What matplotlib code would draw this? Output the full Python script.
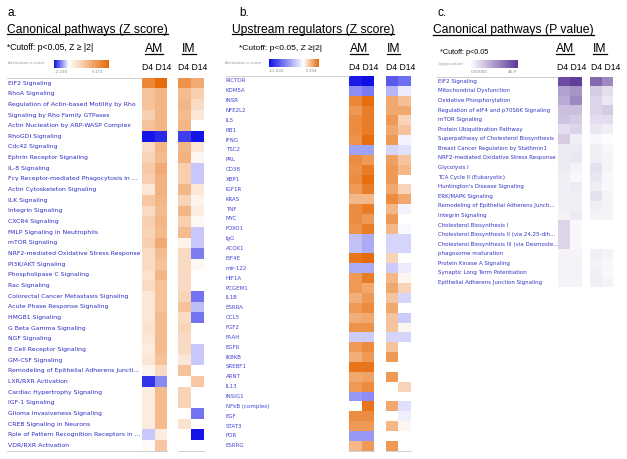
import numpy as np
import matplotlib
matplotlib.use('Agg')
import matplotlib.pyplot as plt
from matplotlib.colors import LinearSegmentedColormap, Normalize
from matplotlib.cm import ScalarMappable
from matplotlib.lines import Line2D
import matplotlib.transforms as mtransforms

# ---------------- DATA ----------------
a_pathways = [
    "EIF2 Signaling", "RhoA Signaling", "Regulation of Actin-based Motility by Rho",
    "Signaling by Rho Family GTPases", "Actin Nucleation by ARP-WASP Complex",
    "RhoGDI Signaling", "Cdc42 Signaling", "Ephrin Receptor Signaling", "IL-8 Signaling",
    "Fcγ Receptor-mediated Phagocytosis in ...", "Actin Cytoskeleton Signaling",
    "ILK Signaling", "Integrin Signaling", "CXCR4 Signaling", "fMLP Signaling in Neutrophils",
    "mTOR Signaling", "NRF2-mediated Oxidative Stress Response", "PI3K/AKT Signaling",
    "Phospholipase C Signaling", "Rac Signaling", "Colorectal Cancer Metastasis Signaling",
    "Acute Phase Response Signaling", "HMGB1 Signaling", "G Beta Gamma Signaling",
    "NGF Signaling", "B Cell Receptor Signaling", "GM-CSF Signaling",
    "Remodeling of Epithelial Adherens Juncti...", "LXR/RXR Activation",
    "Cardiac Hypertrophy Signaling", "IGF-1 Signaling", "Glioma Invasiveness Signaling",
    "CREB Signaling in Neurons", "Role of Pattern Recognition Receptors in ...",
    "VDR/RXR Activation"]
a_am_d4 = [5.0, 2.5, 2.5, 2.0, 2.5, -2.2, 1.5, 1.8, 2.2, 2.0, 1.0, 2.3, 1.5, 2.0, 1.8, 2.0, 1.5,
           1.5, 1.2, 1.5, 1.0, 1.0, 1.0, 1.2, 1.0, 0.8, 1.0, 0.5, -1.9, 0.8, 0.8, 0.8, 0.8, -0.5, 0.2]
a_am_d14 = [6.1, 3.0, 3.0, 3.0, 3.0, -2.0, 3.0, 2.8, 3.5, 3.2, 3.2, 3.0, 2.8, 3.0, 2.8, 3.5, 2.8,
            2.5, 3.0, 2.5, 2.5, 2.5, 2.8, 2.8, 2.8, 2.8, 2.5, 1.5, -1.1, 2.8, 2.8, 2.8, 2.8, 0.8, 2.3]
a_im_d4 = [4.5, 2.8, 3.0, 2.8, 3.0, -1.8, 3.0, 3.2, 2.0, 2.0, 3.0, 1.8, 3.0, 2.0, 2.8, 0.5, 1.5,
           1.5, 1.5, 1.5, 1.8, 2.5, 1.5, 1.8, 1.5, 1.5, 1.0, 2.5, 0.0, 1.8, 1.8, 0.0, 1.2, 0.0, 0.0]
a_im_d14 = [3.5, 2.0, 1.5, 1.0, 0.0, -2.2, 1.0, 0.4, -0.5, -0.5, 1.0, 0.5, 0.8, 0.3, -0.5, -0.5, -1.2,
            0.3, 0.0, 0.0, -1.3, -0.6, -1.3, 0.0, 0.0, -0.5, -0.5, 0.0, 2.3, 0.0, 0.0, -1.3, 0.0, -2.2, 0.0]
a_vmin, a_vmax = -2.236, 6.172

b_regulators = [
    "RICTOR", "KDM5A", "INSR", "NFE2L2", "IL5", "RB1", "IFNG", "TSC2", "PRL", "CD38", "XBP1",
    "IGF1R", "KRAS", "TNF", "MYC", "FOXO1", "IgG", "ACOX1", "EIF4E", "mir-122", "HIF1A",
    "PCGEM1", "IL1B", "ESRRA", "CCL5", "FGF2", "FAAH", "EGFR", "IKBKB", "SREBF1", "ARNT",
    "IL13", "INSIG1", "NFkB (complex)", "EGF", "STAT3", "POR", "ESRRG"]
b_am_d4 = [-11.0, -5.5, 4.2, 3.6, 4.0, 4.0, 3.8, -4.5, 4.0, 3.8, 4.0, 3.5, 2.5, 4.0, 4.0, 3.8,
           -3.0, -3.0, 4.8, -4.0, 3.5, 3.5, 2.8, 3.5, 2.8, 3.8, -2.5, 3.5, 2.8, 4.8, 3.0, 3.5,
           -5.0, 0.0, 4.0, 3.5, -5.0, 2.5]
b_am_d14 = [-11.5, -6.5, 5.0, 4.5, 4.5, 4.5, 5.0, -4.5, 3.5, 4.5, 5.0, 4.5, 2.5, 4.5, 3.5, 4.5,
            -4.0, -4.0, 5.1, -4.0, 4.5, 3.0, 3.5, 4.0, 3.0, 3.8, -2.5, 4.0, 3.5, 4.8, 3.2, 4.0,
            -5.5, 4.8, 4.0, 3.5, -5.0, 3.5]
b_im_d4 = [-8.0, -3.5, 3.0, 3.0, 3.5, 3.0, 3.5, -2.0, 3.3, 3.5, 3.5, 3.0, 4.0, 2.5, 3.5, 2.5,
           -2.0, -2.0, 1.5, -2.5, 2.5, 3.0, 2.0, 3.0, 2.0, 2.0, -2.0, 2.0, 3.5, 0.0, 3.5, 0.0,
           0.0, 3.0, 0.0, 2.5, 0.0, 3.5]
b_im_d14 = [-7.0, -1.0, 2.2, 3.0, 1.5, 2.0, -0.6, -1.5, 2.0, 2.5, 0.0, 1.5, 3.0, -0.6, 0.0, -0.3,
            -2.0, -2.0, 0.0, -1.0, 0.3, 1.5, -2.0, 0.0, -2.5, 0.3, -2.0, 0.0, 0.0, 0.0, 0.0, 1.5,
            0.0, -1.5, -0.8, 0.3, 0.0, 0.0]
b_vmin, b_vmax = -11.532, 5.194

c_pathways = [
    "EIF2 Signaling", "Mitochondrial Dysfunction", "Oxidative Phosphorylation",
    "Regulation of eIF4 and p70S6K Signaling", "mTOR Signaling", "Protein Ubiquitination Pathway",
    "Superpathway of Cholesterol Biosynthesis", "Breast Cancer Regulation by Stathmin1",
    "NRF2-mediated Oxidative Stress Response", "Glycolysis I", "TCA Cycle II (Eukaryotic)",
    "Huntington's Disease Signaling", "ERK/MAPK Signaling",
    "Remodeling of Epithelial Adherens Juncti...", "Integrin Signaling",
    "Cholesterol Biosynthesis I", "Cholesterol Biosynthesis II (via 24,25-dih...",
    "Cholesterol Biosynthesis III (via Desmoste...", "phagosome maturation",
    "Protein Kinase A Signaling", "Synaptic Long Term Potentiation",
    "Epithelial Adherens Junction Signaling"]
c_am_d4 = [42, 22, 20, 15, 14, 8, 12, 5, 5, 5, 4, 4, 4, 4, 3, 10, 10, 10, 3, 3, 3, 3]
c_am_d14 = [45, 25, 28, 15, 12, 10, 4, 5, 6, 3, 2, 5, 4, 4, 5, 2, 2, 2, 3, 3, 3, 3]
c_im_d4 = [35, 12, 10, 10, 8, 6, 2, 4, 4, 7, 6, 4, 7, 4, 3, 0, 0, 0, 4, 3, 4, 4]
c_im_d14 = [28, 8, 6, 12, 8, 4, 1, 2, 3, 3, 2, 2, 3, 3, 3, 0, 0, 0, 3, 2, 2, 3]
c_vmin, c_vmax = 0.0, 46.9
c_ticklabels = ("0.00000", "46.9")

groups = ["AM", "IM"]
days = "D4 D14"

# ---------------- FIGURE ----------------
W, H = 627, 459
fig = plt.figure(figsize=(W / 100, H / 100), dpi=100)
SANS = ['Liberation Sans', 'DejaVu Sans']
LAB = ['DejaVu Sans']


def rect(x0, y0, x1, y1):
    return [x0 / W, 1 - y1 / H, (x1 - x0) / W, (y1 - y0) / H]


def ftext(x, y, s, **kw):
    return fig.text(x / W, 1 - y / H, s, **kw)


def fline(x0, x1, y, color='#c8c8c8', lw=0.6):
    fig.add_artist(Line2D([x0 / W, x1 / W], [1 - y / H, 1 - y / H],
                          transform=fig.transFigure, color=color, lw=lw))


def div_cmap(vmin, vmax, neg, pos):
    z = -vmin / (vmax - vmin)
    return LinearSegmentedColormap.from_list('d', [(0, neg), (z, 'white'), (1, pos)])


BLUE = '#1010e6'
ORANGE = '#e66a08'
cmap_a = div_cmap(a_vmin, a_vmax, BLUE, ORANGE)
cmap_b = div_cmap(b_vmin, b_vmax, BLUE, ORANGE)
cmap_c = LinearSegmentedColormap.from_list('p', ['white', '#5a3796'])
norm_a = Normalize(a_vmin, a_vmax)
norm_b = Normalize(b_vmin, b_vmax)
norm_c = Normalize(c_vmin, c_vmax)


def heat(px, d4, d14, cmap, norm):
    ax = fig.add_axes(rect(*px))
    arr = np.column_stack([d4, d14])
    ax.pcolormesh(arr, cmap=cmap, norm=norm)
    ax.set_xlim(0, 2)
    ax.set_ylim(len(d4), 0)
    ax.axis('off')
    return ax


def row_labels(ax, labels, xpx, fs, color):
    tr = mtransforms.blended_transform_factory(fig.transFigure, ax.transData)
    for i, lab in enumerate(labels):
        ax.text(xpx / W, i + 0.5, lab, transform=tr, ha='left', va='center',
                fontsize=fs, color=color, family=LAB, clip_on=False)


def cbar(px, cmap, norm, title, lo, hi, lo_x, hi_x, title_x):
    cax = fig.add_axes(rect(*px))
    cb = fig.colorbar(ScalarMappable(norm=norm, cmap=cmap), cax=cax, orientation='horizontal')
    cb.set_ticks([])
    cb.outline.set_visible(False)
    ymid = (px[1] + px[3]) / 2
    ftext(title_x, ymid, title, fontsize=3.0, color='#999999', va='center', ha='left', family=LAB)
    ftext(lo_x, px[3] + 4.5, lo, fontsize=3.0, color='#888888', va='center', ha='center', family=LAB)
    ftext(hi_x, px[3] + 4.5, hi, fontsize=3.0, color='#888888', va='center', ha='center', family=LAB)


underlined = []


def header(panel_x, panel_y, letter, title_x, title_base, title, cut_x, cut_y, cut, cut_fs,
           am_x, im_x, grp_base, d_am_x, d_im_x, d_y):
    ftext(panel_x, panel_y, letter, fontsize=8.5, family=SANS, va='center', ha='left')
    t = ftext(title_x, title_base, title, fontsize=8.7, family=SANS, va='baseline', ha='left')
    underlined.append((t, title_base + 1.8))
    ftext(cut_x, cut_y, cut, fontsize=cut_fs, family=SANS, va='center', ha='left')
    for gx, g in zip([am_x, im_x], groups):
        tg = ftext(gx, grp_base, g, fontsize=8.7, family=SANS, va='baseline', ha='left')
        underlined.append((tg, grp_base + 1.8))
    for dx in [d_am_x, d_im_x]:
        ftext(dx, d_y, days, fontsize=6.2, family=SANS, va='center', ha='left')


# ---- panel a ----
header(7, 13, "a.", 7, 32.5, "Canonical pathways (Z score)", 7, 48, "*Cutoff: p<0.05, Z ≥ |2|", 6.2,
       144.5, 182, 52.5, 142, 178, 67)
cbar((54, 59.5, 109, 67.5), cmap_a, norm_a, "Activation z-score", "-2.236", "6.172", 61.5, 98, 8)
ax_a1 = heat((142, 77.7, 167, 450.7), a_am_d4, a_am_d14, cmap_a, norm_a)
ax_a2 = heat((178, 77.7, 204, 450.7), a_im_d4, a_im_d14, cmap_a, norm_a)
row_labels(ax_a1, a_pathways, 8, 4.4, '#2b2bc4')
fline(7, 142, 77.5)
fline(7, 167, 451)
fline(178, 204, 451)

# ---- panel b ----
header(239, 13, "b.", 232, 32.5, "Upstream regulators (Z score)", 239, 48, "*Cutoff: p<0.05, Z ≥|2|", 6.1,
       349.5, 387, 52.5, 349, 386, 67)
cbar((269, 59.5, 319, 67), cmap_b, norm_b, "Activation z-score", "-11.532", "5.194", 277, 311.5, 225)
ax_b1 = heat((349.3, 76, 374.3, 450.7), b_am_d4, b_am_d14, cmap_b, norm_b)
ax_b2 = heat((386, 76, 410.7, 450.7), b_im_d4, b_im_d14, cmap_b, norm_b)
row_labels(ax_b1, b_regulators, 226, 4.0, '#4545d6')
fline(226, 349, 76)
fline(349, 374.3, 451)
fline(386, 410.7, 451)

# ---- panel c ----
header(437, 13, "c.", 433, 33.5, "Canonical pathways (P value)", 440, 52.5, "*Cutoff: p<0.05", 5.2,
       556, 593, 52.5, 557, 591, 67)
cbar((470, 60, 518, 67.5), cmap_c, norm_c, "-log(p-value)", c_ticklabels[0], c_ticklabels[1],
     479, 512, 438)
ax_c1 = heat((558.3, 76.5, 582.3, 287.3), c_am_d4, c_am_d14, cmap_c, norm_c)
ax_c2 = heat((590, 76.5, 613.3, 287.3), c_im_d4, c_im_d14, cmap_c, norm_c)
row_labels(ax_c1, c_pathways, 438, 4.0, '#3434c4')
fline(437, 558, 76.5)

# underlines
fig.canvas.draw()
r = fig.canvas.get_renderer()
for t, ypx in underlined:
    bb = t.get_window_extent(r)
    x0 = bb.x0 / fig.dpi * 100
    x1 = bb.x1 / fig.dpi * 100
    fline(x0, x1, ypx, color='black', lw=0.9)

fig.savefig('out.png', dpi=100)
